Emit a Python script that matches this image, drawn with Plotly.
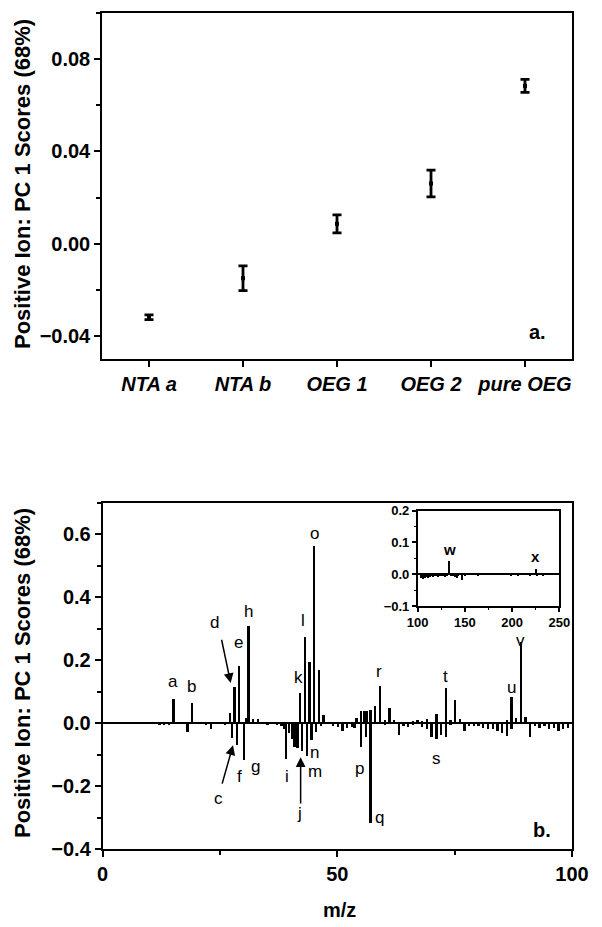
import plotly.graph_objects as go

FONT = "Liberation Sans, Arial, sans-serif"

# panel a: PC1 scores per sample
samples = ["NTA a", "NTA b", "OEG 1", "OEG 2", "pure OEG"]
pc1_scores = [-0.0319, -0.0150, 0.0086, 0.0261, 0.0684]
pc1_errors = [0.0010, 0.0054, 0.0039, 0.0058, 0.0028]

# panel b: PC1 loadings vs m/z (positive and negative peaks)
mz_pos = [15, 16, 19, 20, 27, 28, 29, 30.4, 31, 32, 33, 34, 36,
          42, 43, 44, 45, 46, 47, 48, 54, 55, 55.55, 56.1, 57, 58, 59,
          60, 61, 62, 66, 67, 68, 69, 71, 73, 74, 75, 76, 86, 87, 88,
          89, 90]
load_pos = [0.076, 0.004, 0.064, 0.003, 0.031, 0.115, 0.183, 0.018, 0.309,
            0.012, 0.014, 0.004, 0.003,
            0.096, 0.274, 0.195, 0.563, 0.170, 0.025, 0.004, 0.015, 0.038,
            0.038, 0.038, 0.043, 0.054, 0.117,
            0.010, 0.047, 0.010, 0.008, 0.010, 0.008, 0.012, 0.029, 0.112,
            0.010, 0.075, 0.012, 0.010, 0.082, 0.017, 0.259, 0.020]

mz_neg = [12, 13, 14, 18, 22, 23, 26, 27.5, 28.5, 30, 35, 37, 38, 38.5,
          39, 39.6, 40.2, 40.8, 41.4, 42.4, 43.4, 44.4, 45.4, 46.5, 49,
          50, 51, 52, 53, 53.6, 55, 56, 57, 60, 63, 64, 65, 66, 68, 69,
          70, 71, 72, 73, 74, 77, 78, 79, 80, 81, 82, 83, 84, 85, 86, 87,
          91, 92, 93, 94, 95, 96, 97, 98, 99]
load_neg = [-0.004, -0.005, -0.006, -0.028, -0.003, -0.018, -0.004, -0.048,
            -0.068, -0.118, -0.003, -0.005, -0.010, -0.020,
            -0.115, -0.030, -0.050, -0.075, -0.080, -0.088, -0.105, -0.055,
            -0.028, -0.008, -0.008,
            -0.012, -0.025, -0.014, -0.012, -0.015, -0.075, -0.043, -0.318,
            -0.006, -0.036, -0.008, -0.012, -0.006, -0.012, -0.017,
            -0.043, -0.051, -0.036, -0.045, -0.006, -0.025, -0.010, -0.010,
            -0.008, -0.015, -0.020, -0.020, -0.025, -0.030, -0.040, -0.020,
            -0.044, -0.010, -0.015, -0.010, -0.020, -0.015, -0.025, -0.020,
            -0.015]

# inset: m/z 100-250
mz_inset = [103, 104, 105, 106, 107, 108, 109, 110, 111, 112, 113, 115,
            116, 117, 119, 121, 123, 125, 127, 129, 131, 133, 135, 137,
            139, 141, 143, 147, 150, 163, 164, 199, 201, 206, 219, 225,
            226, 233, 240, 242]
load_inset = [-0.012, -0.010, -0.015, -0.008, -0.012, -0.010, -0.006,
              -0.008, -0.010, -0.006, -0.008, -0.006, -0.008, -0.005,
              -0.006, -0.007, -0.005, -0.006, -0.005, -0.008, -0.005, 0.042,
              -0.004, -0.006, -0.008, -0.010, -0.005, -0.016, -0.003, 0.005,
              -0.004, -0.003, 0.003, -0.004, -0.006, 0.016, -0.004, -0.006,
              0.005, 0.003]

peak_labels = ["a", "b", "c", "d", "e", "f", "g", "h", "i", "j", "k", "l",
               "m", "n", "o", "p", "q", "r", "s", "t", "u", "v"]
peak_label_mz = [15, 19, 24.6, 23.9, 28.9, 29.1, 32.6, 31.2, 39.2, 42.0,
                 41.7, 42.8, 45.2, 45.2, 45.2, 54.8, 59.0, 58.9, 71.1, 73.1,
                 87.1, 89.0]
peak_label_y = [0.131, 0.117, -0.24, 0.32, 0.258, -0.17, -0.137, 0.356,
                -0.17, -0.287, 0.144, 0.325, -0.155, -0.094, 0.602, -0.144,
                -0.30, 0.163, -0.112, 0.147, 0.113, 0.262]

inset_labels = ["w", "x"]
inset_label_mz = [133.2, 225.0]
inset_label_y = [0.078, 0.057]

fig = go.Figure()

fig.add_trace(go.Scatter(
    x=list(range(1, len(samples) + 1)), y=pc1_scores, mode="markers",
    marker=dict(symbol="square", size=4, color="black"),
    error_y=dict(type="data", array=pc1_errors, color="black",
                 thickness=2.8, width=4.5),
    xaxis="x", yaxis="y", showlegend=False,
))
fig.add_trace(go.Bar(x=mz_pos, y=load_pos, width=0.5, marker_color="black",
                     marker_line_width=0, xaxis="x2", yaxis="y2",
                     showlegend=False))
fig.add_trace(go.Bar(x=mz_neg, y=load_neg, width=0.5, marker_color="black",
                     marker_line_width=0, xaxis="x2", yaxis="y2",
                     showlegend=False))
fig.add_trace(go.Bar(x=mz_inset, y=load_inset, width=1.3, marker_color="black",
                     marker_line_width=0, xaxis="x3", yaxis="y3",
                     showlegend=False))

# the page body adds an 8px margin, so the figure is 8px smaller and
# screen positions are shifted by 8px
OFF = 8
W, H = 602 - OFF, 927 - OFF


def px_x(p):
    return (p - OFF) / W


def px_y(p):
    return 1 - (p - OFF) / H


axis_common = dict(showline=True, linecolor="black", linewidth=1.5,
                   mirror=True, ticks="outside", ticklen=6, tickwidth=1.5,
                   tickcolor="black", showgrid=False, zeroline=False,
                   automargin=False)
tick_font = dict(family=FONT, size=20, color="black", weight="bold")

fig.update_layout(
    width=W, height=H, margin=dict(l=0, r=0, t=0, b=0),
    paper_bgcolor="white", plot_bgcolor="white", barmode="relative",
    bargap=0,
    xaxis=dict(axis_common, domain=[px_x(102), px_x(572)], anchor="y",
               range=[0.5, 5.5], tickvals=list(range(1, len(samples) + 1)),
               ticktext=samples,
               tickfont=dict(tick_font, style="italic")),
    yaxis=dict(axis_common, domain=[px_y(359), px_y(13)], anchor="x",
               range=[-0.05, 0.1], tick0=0, dtick=0.04, tickformat=".2f",
               tickfont=tick_font,
               minor=dict(ticks="outside", ticklen=4, tickwidth=1.5,
                          tickcolor="black", dtick=0.02, tick0=0)),
    xaxis2=dict(axis_common, domain=[px_x(102.5), px_x(572)], anchor="y2",
                range=[0, 100], tick0=0, dtick=50, tickfont=tick_font,
                minor=dict(ticks="outside", ticklen=4, tickwidth=1.5,
                           tickcolor="black", dtick=25, tick0=0)),
    yaxis2=dict(axis_common, domain=[px_y(849), px_y(503)], anchor="x2",
                range=[-0.4, 0.7], tick0=0, dtick=0.2, tickformat=".1f",
                tickfont=tick_font, zeroline=True, zerolinecolor="black",
                zerolinewidth=2,
                minor=dict(ticks="outside", ticklen=4, tickwidth=1.5,
                           tickcolor="black", dtick=0.1, tick0=0)),
    xaxis3=dict(axis_common, domain=[px_x(417.7), px_x(559.3)], anchor="y3",
                range=[100, 250], tick0=100, dtick=50, ticklen=4,
                tickfont=dict(tick_font, size=13),
                minor=dict(ticks="outside", ticklen=2, tickwidth=1,
                           tickcolor="black", dtick=25, tick0=100)),
    yaxis3=dict(axis_common, domain=[px_y(606), px_y(510.7)], anchor="x3",
                range=[-0.1, 0.2], tick0=0, dtick=0.1, tickformat=".1f",
                ticklen=4, tickfont=dict(tick_font, size=13), zeroline=True,
                zerolinecolor="black", zerolinewidth=1.5,
                minor=dict(ticks="outside", ticklen=2, tickwidth=1,
                           tickcolor="black", dtick=0.05, tick0=0)),
)

annotations = []
ytitle = "Positive Ion: PC 1 Scores (68%)"
for yc in (184, 673):
    annotations.append(dict(
        text=ytitle, xref="paper", yref="paper", x=px_x(22), y=px_y(yc),
        textangle=-90, showarrow=False, xanchor="center", yanchor="middle",
        font=dict(family=FONT, size=22, color="black", weight="bold")))
annotations.append(dict(
    text="m/z", xref="paper", yref="paper", x=px_x(339), y=px_y(897),
    xanchor="center", yanchor="top", showarrow=False,
    font=dict(family=FONT, size=20, color="black", weight="bold")))
annotations.append(dict(
    text="a.", xref="x", yref="y", x=5.13, y=-0.0384, showarrow=False,
    font=dict(family=FONT, size=20, color="black", weight="bold")))
annotations.append(dict(
    text="b.", xref="x2", yref="y2", x=93.7, y=-0.34, showarrow=False,
    font=dict(family=FONT, size=20, color="black", weight="bold")))

for lab, mx, my in zip(peak_labels, peak_label_mz, peak_label_y):
    annotations.append(dict(
        text=lab, xref="x2", yref="y2", x=mx, y=my, showarrow=False,
        font=dict(family=FONT, size=17, color="black")))
for lab, mx, my in zip(inset_labels, inset_label_mz, inset_label_y):
    annotations.append(dict(
        text=lab, xref="x3", yref="y3", x=mx, y=my, showarrow=False,
        font=dict(family=FONT, size=15, color="black", weight="bold")))

# arrows for d, c and j
for tip, tail in [((27.3, 0.128), (25.3, 0.27)),
                  ((27.8, -0.07), (25.4, -0.197)),
                  ((42.2, -0.108), (42.2, -0.26))]:
    annotations.append(dict(
        text="", xref="x2", yref="y2", axref="x2", ayref="y2",
        x=tip[0], y=tip[1], ax=tail[0], ay=tail[1], showarrow=True,
        arrowhead=2, arrowsize=1.3, arrowwidth=1.5, arrowcolor="black"))

fig.update_layout(annotations=annotations)

fig.write_html("out.html")
